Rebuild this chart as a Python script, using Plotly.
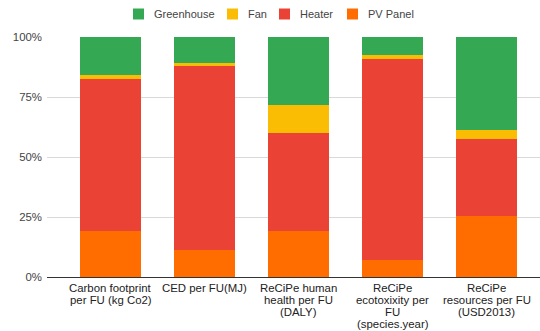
import plotly.graph_objects as go

# Impact categories (each label split into its display lines)
categories = [
    "Carbon footprint per FU (kg Co2)",
    "CED per FU(MJ)",
    "ReCiPe human health per FU (DALY)",
    "ReCiPe ecotoxixity per FU (species.year)",
    "ReCiPe resources per FU (USD2013)",
]
category_lines = [
    ["Carbon footprint", "per FU (kg Co2)"],
    ["CED per FU(MJ)"],
    ["ReCiPe human", "health per FU", "(DALY)"],
    ["ReCiPe", "ecotoxixity per", "FU", "(species.year)"],
    ["ReCiPe", "resources per FU", "(USD2013)"],
]

# Share of each component in every impact category (%)
pv_panel = [19.1, 11.2, 19.1, 7.2, 25.6]
heater = [63.6, 76.6, 40.8, 83.55, 32.0]
fan = [1.3, 1.3, 11.6, 1.55, 3.6]
greenhouse = [16.0, 10.9, 28.5, 7.7, 38.8]

y_ticks = [0, 25, 50, 75, 100]
y_tick_text = ["0%", "25%", "50%", "75%", "100%"]

# Stacking order (bottom to top) and colours
series = [
    ("PV Panel", pv_panel, "#ff6d01"),
    ("Heater", heater, "#ea4335"),
    ("Fan", fan, "#fbbc04"),
    ("Greenhouse", greenhouse, "#34a853"),
]

FONT = "Liberation Sans, Arial, sans-serif"
W, H = 540, 331
M_L, M_R, M_T, M_B = 47, 0, 37, 54
PLOT_W = W - M_L - M_R
PLOT_H = H - M_T - M_B


def px_to_paper(px, py):
    """Convert figure pixel coordinates to plot-area paper coordinates."""
    return (px - M_L) / PLOT_W, (H - M_B - py) / PLOT_H


fig = go.Figure()
for name, vals, color in series:
    fig.add_trace(go.Bar(
        name=name, x=categories, y=vals,
        marker=dict(color=color, line=dict(width=0)),
        showlegend=False,
    ))

# Multi-line category labels under each bar
for cat, lines in zip(categories, category_lines):
    for k, line in enumerate(lines):
        fig.add_annotation(
            x=cat, y=0, xref="x", yref="paper",
            text=line, showarrow=False,
            xanchor="center", yanchor="middle",
            yshift=-(11 + 11.9 * k),
            font=dict(family=FONT, size=11.4, color="#222222"),
        )

# Compact legend row across the top: swatch + name, legend order top-down
legend_items = list(reversed(series))
swatch_left = [133, 227, 279, 347]
for (name, _, color), sx in zip(legend_items, swatch_left):
    x0, y0 = px_to_paper(sx, 19.5)
    x1, y1 = px_to_paper(sx + 11, 8.5)
    fig.add_shape(
        type="rect", xref="paper", yref="paper",
        x0=x0, y0=y0, x1=x1, y1=y1,
        fillcolor=color, line=dict(width=0),
    )
    tx, ty = px_to_paper(sx + 18.5, 14)
    fig.add_annotation(
        x=tx, y=ty, xref="paper", yref="paper",
        text=name, showarrow=False,
        xanchor="left", yanchor="middle",
        font=dict(family=FONT, size=11, color="#444444"),
    )

fig.update_layout(
    width=W, height=H,
    margin=dict(l=M_L, r=M_R, t=M_T, b=M_B),
    paper_bgcolor="white", plot_bgcolor="white",
    barmode="stack", barnorm="percent", bargap=0.351,
    font=dict(family=FONT, size=11.4, color="#444444"),
    showlegend=False,
)
fig.update_xaxes(
    type="category", range=[-0.6755, 4.569],
    showticklabels=False, showgrid=False,
    showline=True, linecolor="#333333", linewidth=1,
    ticks="",
)
fig.update_yaxes(
    range=[0, 100], tickvals=y_ticks, ticktext=y_tick_text,
    showgrid=True, gridcolor="#d9d9d9", gridwidth=1,
    zeroline=False, showline=False, ticks="",
    ticklabelstandoff=4,
    tickfont=dict(family=FONT, size=11.4, color="#444444"),
)

fig.write_html("out.html")
